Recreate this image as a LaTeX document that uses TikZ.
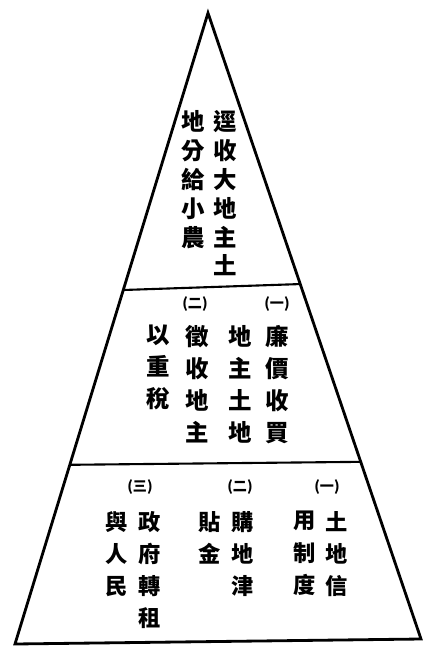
\documentclass[tikz,border=0pt]{standalone}
\usepackage{fontspec}
\newfontfamily\cjk{Noto Sans CJK TC}
\usetikzlibrary{calc}
\tikzset{
  edge/.style={line width=2.4pt, line join=miter},
  tier/.style={line width=1.8pt},
  topcol/.style={anchor=north, inner sep=0pt, align=center, font=\cjk\bfseries\fontsize{20}{24.7}\selectfont},
  midcol/.style={anchor=north, inner sep=0pt, align=center, font=\cjk\bfseries\fontsize{20}{27.3}\selectfont},
  botcol/.style={anchor=north, inner sep=0pt, align=center, font=\cjk\bfseries\fontsize{19}{27.5}\selectfont},
  lab/.style={inner sep=0pt, font=\cjk\bfseries\fontsize{12}{14}\selectfont}
}
\begin{document}
\begin{tikzpicture}[x=0.03cm,y=-0.03cm]
\useasboundingbox (0,0) rectangle (424,650);
% pyramid
\coordinate (A) at (208,13);
\coordinate (BL) at (15,644);
\coordinate (BR) at (421,639);
\coordinate (L1) at ($(A)!0.439!(BL)$);
\coordinate (R1) at ($(A)!0.433!(BR)$);
\coordinate (L2) at ($(A)!0.716!(BL)$);
\coordinate (R2) at ($(A)!0.717!(BR)$);
\draw[edge] (A) -- (BL) -- (BR) -- cycle;
\draw[tier] (L1) -- (R1);
\draw[tier] (L2) -- (R2);
% top tier
\node[topcol] (t1) at (225,110) {逕\\收\\大\\地\\主\\土};
\node[topcol] (t2) at (193,110) {地\\分\\給\\小\\農};
% middle tier
\node[lab] (m1lab) at (277,304) {(一)};
\node[lab] (m2lab) at (195,304) {(二)};
\node[midcol] (m1) at (277,325) {廉\\價\\收\\買};
\node[midcol] (m2) at (240,325) {地\\主\\土\\地};
\node[midcol] (m3) at (197,325) {徵\\收\\地\\主};
\node[midcol] (m4) at (158,325) {以\\重\\稅};
% bottom tier
\node[lab] (b1lab) at (327,487) {(一)};
\node[lab] (b2lab) at (240,487) {(二)};
\node[lab] (b3lab) at (140,487) {(三)};
\node[botcol] (b1) at (337,511) {土\\地\\信};
\node[botcol] (b2) at (305,511) {用\\制\\度};
\node[botcol] (b3) at (243,511) {購\\地\\津};
\node[botcol] (b4) at (210,511) {貼\\金};
\node[botcol] (b5) at (150,511) {政\\府\\轉\\租};
\node[botcol] (b6) at (117,511) {與\\人\\民};
\end{tikzpicture}
\end{document}
